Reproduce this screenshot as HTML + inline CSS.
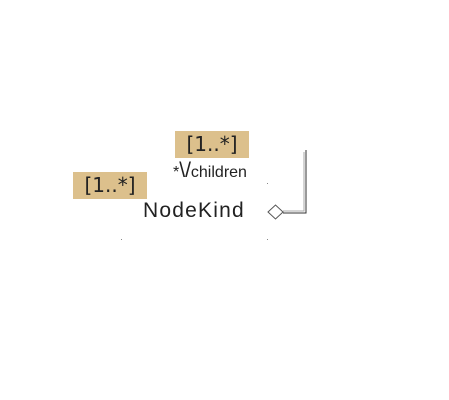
<!DOCTYPE html>
<html><head><style>
html,body{margin:0;padding:0;background:#fff;width:449px;height:400px;overflow:hidden;position:relative;font-family:"Liberation Sans",sans-serif}
.lab{position:absolute;background:#dcc08c;color:#222;font-size:20px;text-align:center;line-height:27px;font-family:"DejaVu Sans",sans-serif}
</style></head><body>
<div class="lab" style="left:73px;top:172px;width:74px;height:27px">[1..*]</div>
<div class="lab" style="left:175px;top:131px;width:74px;height:27px">[1..*]</div>
<div style="position:absolute;left:173px;top:159px;font-size:16px;color:#222;white-space:nowrap">*<span style="font-size:21px">\/</span>children</div>
<div style="position:absolute;left:143px;top:199px;font-size:21px;color:#222;letter-spacing:1.2px">NodeKind</div>
<svg width="449" height="400" style="position:absolute;left:0;top:0">
<path d="M306 150 V213 H283" fill="none" stroke="#333" stroke-width="1"/>
<path d="M304 152 V211 H283" fill="none" stroke="#aaa" stroke-width="1"/>
<polygon points="268,212 275.5,205 283,212 275.5,219" fill="#fff" stroke="#555" stroke-width="1"/>
<rect x="121" y="239" width="1" height="1" fill="#888"/>
<rect x="267" y="239" width="1" height="1" fill="#888"/>
<rect x="267" y="183" width="1" height="1" fill="#888"/>
</svg>
</body></html>
